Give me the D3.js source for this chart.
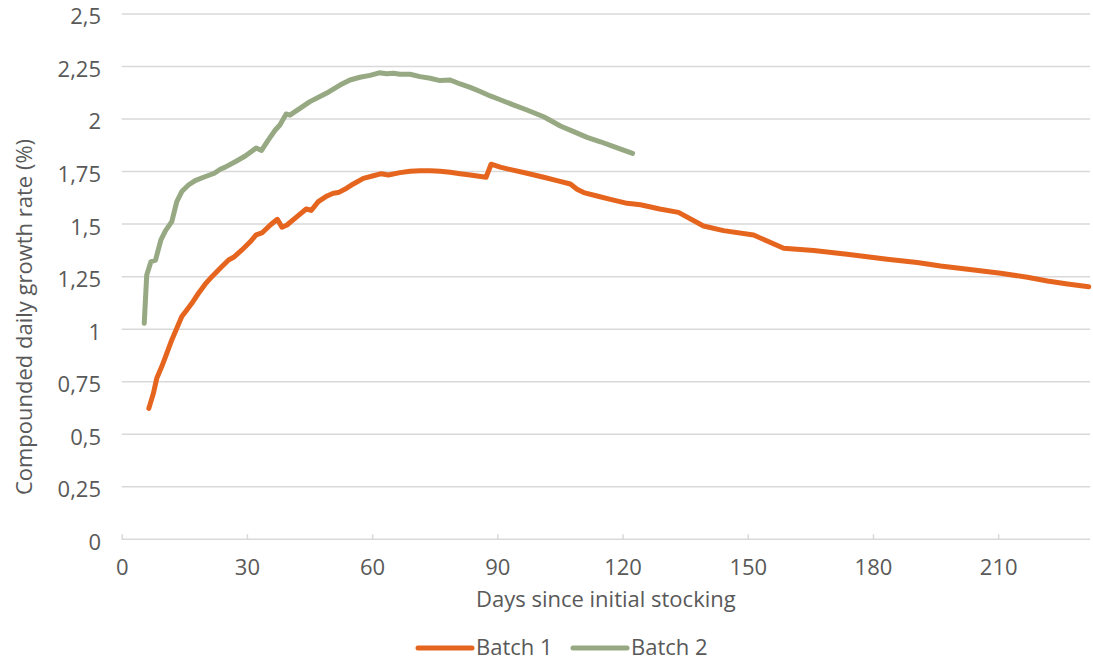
<!DOCTYPE html>
<html>
<head>
<meta charset="utf-8">
<script src="https://cdn.jsdelivr.net/npm/d3@7"></script>
<style>
  html, body { margin: 0; padding: 0; background: #fff; }
  svg text { font-family: "Open Sans", "Noto Sans", sans-serif; fill: #595959; }
</style>
</head>
<body>
<svg id="chart" width="1093" height="660"></svg>
<script>
// Compounded daily growth rate per batch, by days since initial stocking
const batch1Days = [6.5, 7.6, 8.4, 9.6, 10.8, 12.0, 13.2, 14.4, 15.6, 16.8, 18.4, 20.0, 21.6, 23.6, 25.6, 26.8, 28.8, 30.8, 32.2, 33.6, 35.6, 37.3, 38.4, 39.6, 42.0, 44.2, 45.4, 47.1, 49.2, 50.7, 51.9, 53.9, 55.5, 57.9, 60.3, 62.2, 63.9, 66.7, 69.1, 71.5, 73.9, 76.3, 78.7, 81.1, 83.5, 87.3, 88.5, 90.7, 93.5, 97.1, 101.1, 104.3, 107.5, 109.1, 110.7, 113.9, 117.1, 121.1, 124.3, 128.9, 133.4, 139.4, 144.2, 151.4, 158.6, 165.8, 173.8, 183.4, 190.6, 196.2, 204.2, 210.6, 217.0, 221.8, 226.6, 231.7];
const batch1Rate = [0.623, 0.695, 0.766, 0.822, 0.885, 0.949, 1.004, 1.060, 1.091, 1.123, 1.171, 1.214, 1.250, 1.290, 1.329, 1.342, 1.377, 1.416, 1.449, 1.458, 1.496, 1.523, 1.485, 1.496, 1.536, 1.572, 1.565, 1.607, 1.634, 1.647, 1.650, 1.671, 1.691, 1.718, 1.730, 1.740, 1.734, 1.745, 1.752, 1.754, 1.754, 1.752, 1.747, 1.740, 1.734, 1.723, 1.785, 1.771, 1.758, 1.742, 1.723, 1.707, 1.691, 1.666, 1.650, 1.634, 1.618, 1.599, 1.592, 1.572, 1.556, 1.491, 1.469, 1.448, 1.385, 1.374, 1.357, 1.333, 1.317, 1.301, 1.282, 1.266, 1.247, 1.229, 1.215, 1.202];

const batch2Days = [5.4, 6.0, 7.0, 8.1, 9.4, 10.5, 12.0, 13.2, 14.4, 16.0, 17.6, 19.6, 22.2, 23.6, 24.8, 27.2, 29.6, 32.2, 33.5, 35.1, 36.8, 37.9, 39.4, 40.3, 42.7, 45.1, 47.5, 49.5, 52.3, 54.7, 57.1, 59.5, 61.7, 63.5, 65.1, 66.7, 69.1, 71.5, 73.9, 76.3, 78.7, 81.1, 83.5, 85.9, 88.3, 90.7, 93.5, 97.1, 101.1, 103.5, 105.1, 108.3, 111.5, 114.7, 117.9, 122.4];
const batch2Rate = [1.028, 1.258, 1.321, 1.329, 1.425, 1.469, 1.512, 1.607, 1.655, 1.686, 1.707, 1.723, 1.742, 1.761, 1.771, 1.797, 1.824, 1.862, 1.851, 1.900, 1.948, 1.972, 2.024, 2.019, 2.051, 2.083, 2.107, 2.128, 2.162, 2.186, 2.199, 2.208, 2.220, 2.216, 2.218, 2.213, 2.213, 2.202, 2.194, 2.183, 2.186, 2.167, 2.151, 2.131, 2.110, 2.092, 2.070, 2.043, 2.011, 1.985, 1.967, 1.940, 1.913, 1.892, 1.869, 1.837];

const xTicks = [0, 30, 60, 90, 120, 150, 180, 210];
const yTicks = [0, 0.25, 0.5, 0.75, 1, 1.25, 1.5, 1.75, 2, 2.25, 2.5];
const seriesNames = ["Batch 1", "Batch 2"];
const seriesColors = ["#E5651F", "#97A983"];

const svg = d3.select("#chart");
const plot = { left: 121.7, right: 1090, top: 14, bottom: 539.3 };
const fontSize = 22;

const x = d3.scaleLinear().domain([0, 232]).range([plot.left, plot.right]);
const y = d3.scaleLinear().domain([0, 2.5]).range([plot.bottom, plot.top]);

const fmt = v => String(v).replace(".", ",");

// horizontal gridlines
svg.append("g")
  .selectAll("line")
  .data(yTicks.filter(d => d > 0))
  .join("line")
  .attr("x1", plot.left).attr("x2", plot.right)
  .attr("y1", d => y(d)).attr("y2", d => y(d))
  .attr("stroke", "#D9D9D9").attr("stroke-width", 1.5);

// y axis labels
const yAxis = d3.axisLeft(y).tickValues(yTicks).tickFormat(fmt).tickSize(0).tickPadding(0);
const gy = svg.append("g").attr("transform", `translate(101,0)`).call(yAxis);
gy.attr("font-family", null);
gy.select(".domain").remove();
gy.selectAll("text")
  .attr("font-size", fontSize).attr("dy", "0.45em")
  .attr("fill", "#595959");

// x axis with inward ticks
const xAxis = d3.axisTop(x).tickValues(xTicks).tickSize(5).tickFormat(d => d);
const gx = svg.append("g").attr("transform", `translate(0,${plot.bottom})`).call(xAxis);
gx.attr("font-family", null);
gx.select(".domain").attr("d", `M${plot.left},0H${plot.right}`).attr("stroke", "#D9D9D9").attr("stroke-width", 1.5);
gx.selectAll(".tick line").attr("stroke", "#D9D9D9").attr("stroke-width", 1.5);
gx.selectAll("text")
  .attr("y", 36).attr("dy", 0)
  .attr("font-size", fontSize).attr("fill", "#595959");

// axis titles
svg.append("text")
  .attr("x", (plot.left + plot.right) / 2).attr("y", 607)
  .attr("text-anchor", "middle").attr("font-size", fontSize)
  .text("Days since initial stocking");

svg.append("text")
  .attr("transform", "translate(32,317) rotate(-90)")
  .attr("text-anchor", "middle").attr("font-size", fontSize)
  .text("Compounded daily growth rate (%)");

// series lines
const line = d3.line().x(d => x(d[0])).y(d => y(d[1]));
const series = [
  d3.zip(batch1Days, batch1Rate),
  d3.zip(batch2Days, batch2Rate)
];
svg.append("g")
  .selectAll("path")
  .data(series)
  .join("path")
  .attr("d", line)
  .attr("fill", "none")
  .attr("stroke", (d, i) => seriesColors[i])
  .attr("stroke-width", 5)
  .attr("stroke-linejoin", "round")
  .attr("stroke-linecap", "round");

// legend
const legendX = [418, 573];
const lg = svg.append("g");
seriesNames.forEach((name, i) => {
  lg.append("line")
    .attr("x1", legendX[i]).attr("x2", legendX[i] + 54)
    .attr("y1", 648).attr("y2", 648)
    .attr("stroke", seriesColors[i]).attr("stroke-width", 5)
    .attr("stroke-linecap", "round");
  lg.append("text")
    .attr("x", legendX[i] + 58).attr("y", 655)
    .attr("font-size", fontSize)
    .text(name);
});
</script>
</body>
</html>
